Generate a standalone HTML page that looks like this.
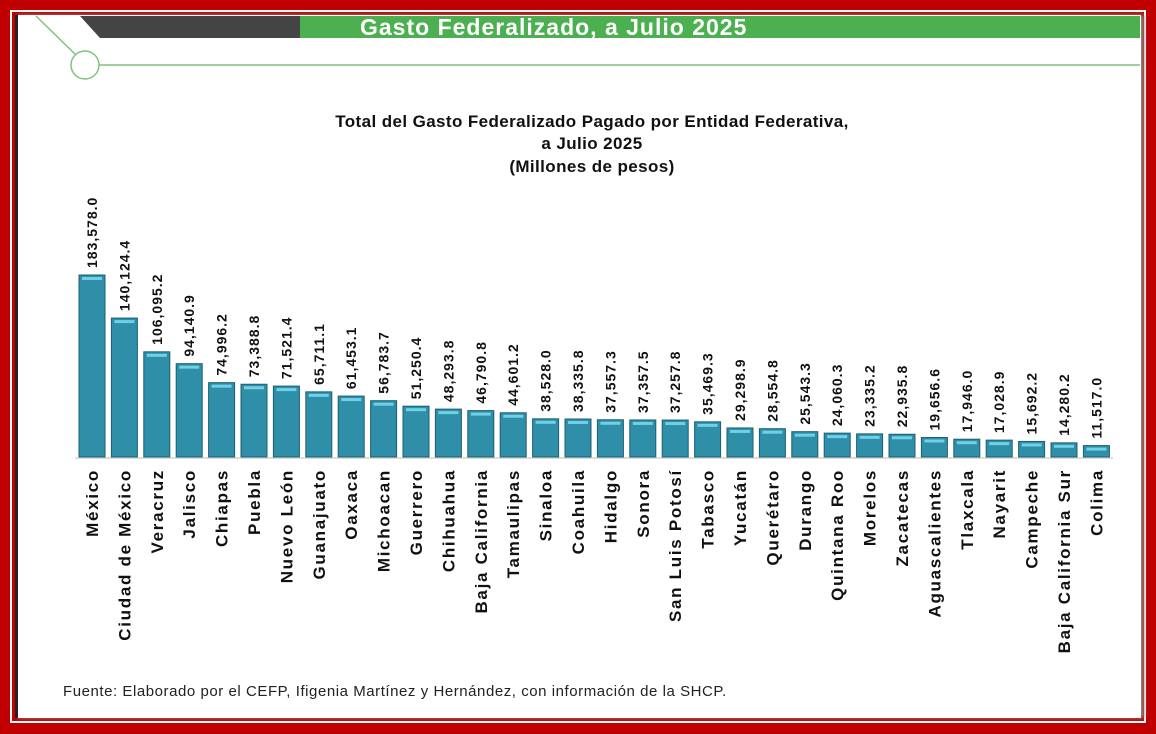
<!DOCTYPE html>
<html><head><meta charset="utf-8">
<style>
html,body{margin:0;padding:0}
body{width:1156px;height:734px;position:relative;overflow:hidden;background:#c00000;font-family:"Liberation Sans",sans-serif}
.abs{position:absolute}
</style></head>
<body>
<div class="abs" style="left:10px;top:10px;width:1136px;height:713px;border:2px solid #fff;box-sizing:border-box"></div>
<div class="abs" style="left:15px;top:15px;width:1126px;height:703px;background:#fff;border-left:3px solid #222;box-shadow:3px 0 4px #888;box-sizing:border-box"></div>
<svg class="abs" style="left:0;top:0" width="1156" height="734">
  <polygon points="80,16 300,16 300,38 100,38" fill="#444"/>
  <rect x="300" y="16" width="840" height="22" fill="#4cb050"/>
  <text x="360" y="35" font-size="23" font-weight="bold" fill="#fff" letter-spacing="1">Gasto Federalizado, a Julio 2025</text>
  <line x1="36" y1="16" x2="76" y2="55" stroke="#7cc47f" stroke-width="1.5"/>
  <circle cx="85" cy="65" r="14" fill="#fff" stroke="#7cc47f" stroke-width="1.5"/>
  <line x1="99" y1="65" x2="1140" y2="65" stroke="#7cc47f" stroke-width="1.5"/>
  <g font-size="17" font-weight="bold" fill="#111" text-anchor="middle" letter-spacing="0.4">
    <text x="592" y="127">Total del Gasto Federalizado Pagado por Entidad Federativa,</text>
    <text x="592" y="149">a Julio 2025</text>
    <text x="592" y="172">(Millones de pesos)</text>
  </g>
  <g id="bars"></g>
  <text x="63" y="696" font-size="15" fill="#222" letter-spacing="0.55">Fuente: Elaborado por el CEFP, Ifigenia Martínez y Hernández, con información de la SHCP.</text>
</svg>
<script>
const categories=["México","Ciudad de México","Veracruz","Jalisco","Chiapas","Puebla","Nuevo León","Guanajuato","Oaxaca","Michoacan","Guerrero","Chihuahua","Baja California","Tamaulipas","Sinaloa","Coahuila","Hidalgo","Sonora","San Luis Potosí","Tabasco","Yucatán","Querétaro","Durango","Quintana Roo","Morelos","Zacatecas","Aguascalientes","Tlaxcala","Nayarit","Campeche","Baja California Sur","Colima"];
const values=[183578.0,140124.4,106095.2,94140.9,74996.2,73388.8,71521.4,65711.1,61453.1,56783.7,51250.4,48293.8,46790.8,44601.2,38528.0,38335.8,37557.3,37357.5,37257.8,35469.3,29298.9,28554.8,25543.3,24060.3,23335.2,22935.8,19656.6,17946.0,17028.9,15692.2,14280.2,11517.0];
const NS="http://www.w3.org/2000/svg";
const g=document.getElementById('bars');
const base=457,x0=92,step=32.4,bw=26,maxV=183578,maxH=182;
const xs=i=>x0+i*step;
const ys=v=>v/maxV*maxH;
function mk(t,a){const e=document.createElementNS(NS,t);for(const k in a)e.setAttribute(k,a[k]);return e;}
const ax=mk('line',{x1:75,y1:base+1,x2:1113,y2:base+1,stroke:'#ddd','stroke-width':2});


g.appendChild(ax);
values.forEach((v,i)=>{
  const cx=xs(i),h=ys(v);
  const r=mk('rect',{x:cx-bw/2,y:base-h,width:bw,height:h,fill:'#2f8fa8',stroke:'#1d5f70','stroke-width':1});
  
  
  g.appendChild(r);
  const hl=mk('rect',{x:cx-bw/2+3,y:base-h+2,width:bw-6,height:3,fill:'#6fd0e6'});
  
  
  g.appendChild(hl);
  const t=mk('text',{x:0,y:0,'font-size':14,'font-weight':'bold','letter-spacing':1,fill:'#111',transform:`translate(${cx+5},${base-h-7}) rotate(-90)`});
  t.textContent=v.toLocaleString('en-US',{minimumFractionDigits:1,maximumFractionDigits:1});
  
  
  g.appendChild(t);
  const c=mk('text',{x:0,y:0,'font-size':17,'font-weight':'bold','letter-spacing':1.7,fill:'#111','text-anchor':'end',transform:`translate(${cx+6},${base+12}) rotate(-90)`});
  c.textContent=categories[i];
  
  
  g.appendChild(c);
});
</script>
</body></html>
